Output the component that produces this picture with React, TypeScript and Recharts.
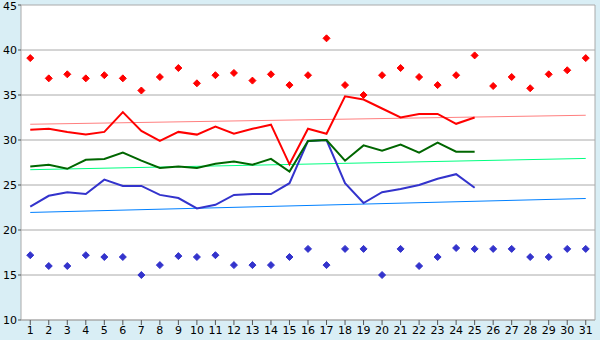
import React from "react";
import { ComposedChart, Line, XAxis, YAxis, CartesianGrid } from "recharts";

const days = Array.from({ length: 31 }, (_, i) => String(i + 1));

const maxPoints = [
    39.1, 36.85, 37.3, 36.85, 37.2, 36.85, 35.5, 37.0, 38.0, 36.3, 37.2, 37.45,
    36.6, 37.3, 36.1, 37.2, 41.3, 36.1, 35.0, 37.2, 38.0, 37.0, 36.1, 37.2, 39.4,
    36.0, 37.0, 35.75, 37.3, 37.75, 39.1,
];
const minPoints = [
    17.2, 16.0, 16.0, 17.2, 17.0, 17.0, 15.0, 16.1, 17.1, 17.0, 17.2, 16.1, 16.1,
    16.1, 17.0, 17.9, 16.1, 17.9, 17.9, 15.0, 17.9, 16.0, 17.0, 18.0, 17.9, 17.9,
    17.9, 17.0, 17.0, 17.9, 17.9,
];
const redLine = [
    31.15, 31.25, 30.9, 30.6, 30.9, 33.1, 31.0, 29.9, 30.9, 30.6, 31.5, 30.7,
    31.25, 31.7, 27.3, 31.25, 30.7, 34.85, 34.5, 33.5, 32.5, 32.9, 32.9, 31.8, 32.5,
];
const greenLine = [
    27.05, 27.25, 26.8, 27.8, 27.9, 28.6, 27.7, 26.9, 27.05, 26.9, 27.35, 27.6,
    27.25, 27.9, 26.5, 29.9, 30.0, 27.7, 29.4, 28.8, 29.5, 28.6, 29.7, 28.7, 28.7,
];
const blueLine = [
    22.6, 23.8, 24.2, 24.0, 25.6, 24.9, 24.9, 23.9, 23.55, 22.4, 22.8, 23.9, 24.0,
    24.0, 25.2, 29.9, 30.0, 25.2, 23.0, 24.2, 24.55, 25.0, 25.7, 26.2, 24.7,
];
// trend lines: first and last day only
const redTrend = [31.75, 32.75];
const greenTrend = [26.7, 27.95];
const blueTrend = [21.95, 23.5];

const yTicks = [10, 15, 20, 25, 30, 35, 40, 45];

const data = days.map((d, i) => ({
    day: d,
    max: maxPoints[i],
    min: minPoints[i],
    red: redLine[i] ?? null,
    green: greenLine[i] ?? null,
    blue: blueLine[i] ?? null,
    redT: i === 0 ? redTrend[0] : i === 30 ? redTrend[1] : null,
    greenT: i === 0 ? greenTrend[0] : i === 30 ? greenTrend[1] : null,
    blueT: i === 0 ? blueTrend[0] : i === 30 ? blueTrend[1] : null,
}));

const Diamond = (color: string) => (props: any) => {
    const { cx, cy, index } = props;
    if (cx == null || cy == null) return <g key={index} />;
    return (
        <path
            key={index}
            d={`M${cx} ${cy - 3.5}L${cx + 3.5} ${cy}L${cx} ${cy + 3.5}L${cx - 3.5} ${cy}Z`}
            fill={color}
            stroke={color}
            strokeWidth={1}
        />
    );
};

const tickStyle = { fill: "#000", fontSize: 11, fontFamily: "DejaVu Sans" };

export default function App() {
    return (
        <div
            style={{
                position: "fixed",
                top: 0,
                left: 0,
                width: 600,
                height: 340,
                background: "#d9eef5",
            }}
        >
            <ComposedChart
                width={600}
                height={340}
                data={data}
                margin={{ top: 5, right: 0, left: 0, bottom: 0 }}
            >
                <CartesianGrid
                    vertical={false}
                    stroke="#aaaaaa"
                    fill="#ffffff"
                    fillOpacity={1}
                />
                <XAxis
                    dataKey="day"
                    scale="band"
                    interval={0}
                    height={20}
                    tick={tickStyle}
                    tickLine={{ stroke: "#555" }}
                    tickSize={5}
                    tickMargin={1}
                    axisLine={{ stroke: "#aaaaaa" }}
                />
                <YAxis
                    domain={[10, 45]}
                    ticks={yTicks}
                    width={21}
                    tick={tickStyle}
                    tickLine={{ stroke: "#555" }}
                    tickSize={3}
                    tickMargin={1}
                    axisLine={{ stroke: "#aaaaaa" }}
                    allowDataOverflow
                />
                <YAxis
                    yAxisId="r"
                    orientation="right"
                    domain={[10, 45]}
                    width={5}
                    tick={false}
                    tickLine={false}
                    axisLine={{ stroke: "#aaaaaa" }}
                />
                <Line
                    dataKey="redT"
                    stroke="#ff7f7f"
                    strokeWidth={1}
                    dot={false}
                    connectNulls
                    isAnimationActive={false}
                />
                <Line
                    dataKey="greenT"
                    stroke="#00ff80"
                    strokeWidth={1}
                    dot={false}
                    connectNulls
                    isAnimationActive={false}
                />
                <Line
                    dataKey="blueT"
                    stroke="#0080ff"
                    strokeWidth={1}
                    dot={false}
                    connectNulls
                    isAnimationActive={false}
                />
                <Line
                    dataKey="blue"
                    stroke="#3333cc"
                    strokeWidth={2}
                    dot={false}
                    isAnimationActive={false}
                />
                <Line
                    dataKey="green"
                    stroke="#006600"
                    strokeWidth={2}
                    dot={false}
                    isAnimationActive={false}
                />
                <Line
                    dataKey="red"
                    stroke="#ff0000"
                    strokeWidth={2}
                    dot={false}
                    isAnimationActive={false}
                />
                <Line
                    dataKey="max"
                    stroke="none"
                    dot={Diamond("#ff0000")}
                    activeDot={false}
                    isAnimationActive={false}
                />
                <Line
                    dataKey="min"
                    stroke="none"
                    dot={Diamond("#3333cc")}
                    activeDot={false}
                    isAnimationActive={false}
                />
            </ComposedChart>
        </div>
    );
}
